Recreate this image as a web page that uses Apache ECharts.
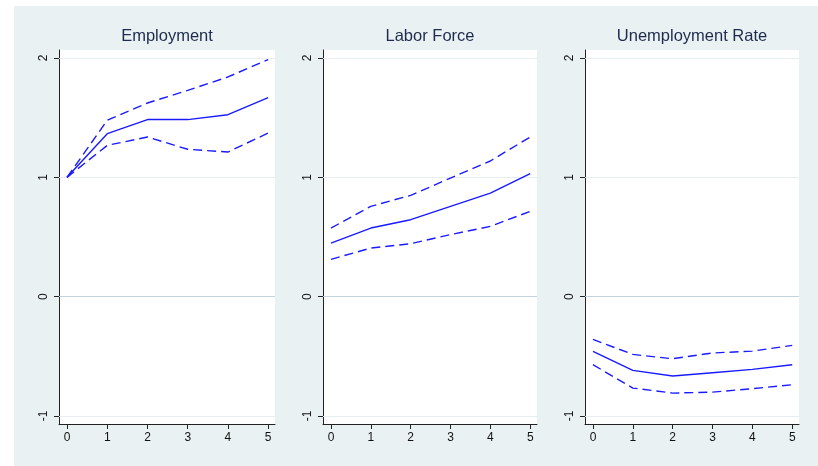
<!DOCTYPE html>
<html>
<head>
<meta charset="utf-8">
<script src="https://cdn.jsdelivr.net/npm/echarts@6/dist/echarts.min.js"></script>
<style>
html,body{margin:0;padding:0;background:#fff;}
#c{width:818px;height:466px;}
</style>
</head>
<body>
<div id="c"></div>
<script>
// ---- data ----
var horizons = [0, 1, 2, 3, 4, 5];
var xTicks = [0, 1, 2, 3, 4, 5];
var yTicks = [-1, 0, 1, 2];
var panelTitles = ['Employment', 'Labor Force', 'Unemployment Rate'];

var empMid = [1.0, 1.366, 1.484, 1.484, 1.525, 1.668];
var empUp  = [1.0, 1.478, 1.623, 1.729, 1.841, 1.987];
var empLo  = [1.0, 1.268, 1.338, 1.235, 1.212, 1.371];

var lfMid = [0.449, 0.575, 0.645, 0.757, 0.868, 1.031];
var lfUp  = [0.575, 0.757, 0.849, 0.994, 1.137, 1.338];
var lfLo  = [0.313, 0.407, 0.444, 0.520, 0.589, 0.715];

var urMid = [-0.459, -0.618, -0.665, -0.637, -0.609, -0.570];
var urUp  = [-0.358, -0.484, -0.520, -0.472, -0.456, -0.408];
var urLo  = [-0.570, -0.766, -0.808, -0.800, -0.771, -0.738];

var panels = [
  {mid: empMid, up: empUp, lo: empLo},
  {mid: lfMid, up: lfUp, lo: lfLo},
  {mid: urMid, up: urUp, lo: urLo}
];

// ---- layout ----
var grids = [
  {left: 59, top: 50, width: 216, height: 374},
  {left: 323, top: 50, width: 214, height: 374},
  {left: 585, top: 50, width: 214, height: 374}
];

var LINE = '#1a1aff';
var AXIS = '#222';

function pairs(arr) { return horizons.map(function (h, i) { return [h, arr[i]]; }); }

var option = {
  animation: false,
  backgroundColor: '#ffffff',
  graphic: [{
    type: 'rect', z: -10, silent: true,
    shape: {x: 14, y: 6, width: 804, height: 460},
    style: {fill: '#eaf1f3'}
  }],
  title: panelTitles.map(function (t, i) {
    return {
      text: t,
      left: grids[i].left + grids[i].width / 2,
      top: 28,
      textAlign: 'center',
      padding: 0,
      textStyle: {fontFamily: 'Liberation Sans, Arial, sans-serif', fontSize: 16.5, fontWeight: 'normal', color: '#1e2b4d'}
    };
  }),
  grid: grids.map(function (g) {
    return {left: g.left, top: g.top, width: g.width, height: g.height, show: true,
      backgroundColor: '#ffffff', borderWidth: 0, containLabel: false};
  }),
  xAxis: grids.map(function (g, i) {
    return {
      type: 'value', gridIndex: i, min: -0.2, max: 5.17,
      axisLine: {show: true, onZero: false, lineStyle: {color: AXIS, width: 1}},
      axisTick: {show: true, length: 5, lineStyle: {color: AXIS}, customValues: xTicks},
      axisLabel: {show: true, margin: 8, fontSize: 12, color: '#111',
        fontFamily: 'Liberation Sans, Arial, sans-serif', customValues: xTicks},
      splitLine: {show: false}
    };
  }),
  yAxis: grids.map(function (g, i) {
    return {
      type: 'value', gridIndex: i, min: -1.067, max: 2.067,
      axisLine: {show: true, onZero: false, lineStyle: {color: AXIS, width: 1}},
      axisTick: {show: true, length: 5, lineStyle: {color: AXIS}, customValues: yTicks},
      axisLabel: {show: true, margin: 9, rotate: 90, fontSize: 12, color: '#111',
        fontFamily: 'Liberation Sans, Arial, sans-serif', customValues: yTicks},
      splitLine: {show: false}
    };
  }),
  series: []
};

panels.forEach(function (p, i) {
  option.series.push({
    type: 'line', xAxisIndex: i, yAxisIndex: i, data: pairs(p.mid),
    symbol: 'none', z: 5, silent: true,
    lineStyle: {color: LINE, width: 1.4, type: 'solid'},
    markLine: {
      silent: true, symbol: 'none', label: {show: false}, animation: false,
      data: yTicks.map(function (v) {
        return {yAxis: v, lineStyle: {color: v === 0 ? '#c3d2db' : '#e6eef1', width: 1.2, type: 'solid'}};
      })
    }
  });
  option.series.push({
    type: 'line', xAxisIndex: i, yAxisIndex: i, data: pairs(p.up),
    symbol: 'none', z: 5, silent: true,
    lineStyle: {color: LINE, width: 1.4, type: [9, 5]}
  });
  option.series.push({
    type: 'line', xAxisIndex: i, yAxisIndex: i, data: pairs(p.lo),
    symbol: 'none', z: 5, silent: true,
    lineStyle: {color: LINE, width: 1.4, type: [9, 5]}
  });
});

var chart = echarts.init(document.getElementById('c'), null, {renderer: 'canvas'});
chart.setOption(option);
</script>
</body>
</html>
